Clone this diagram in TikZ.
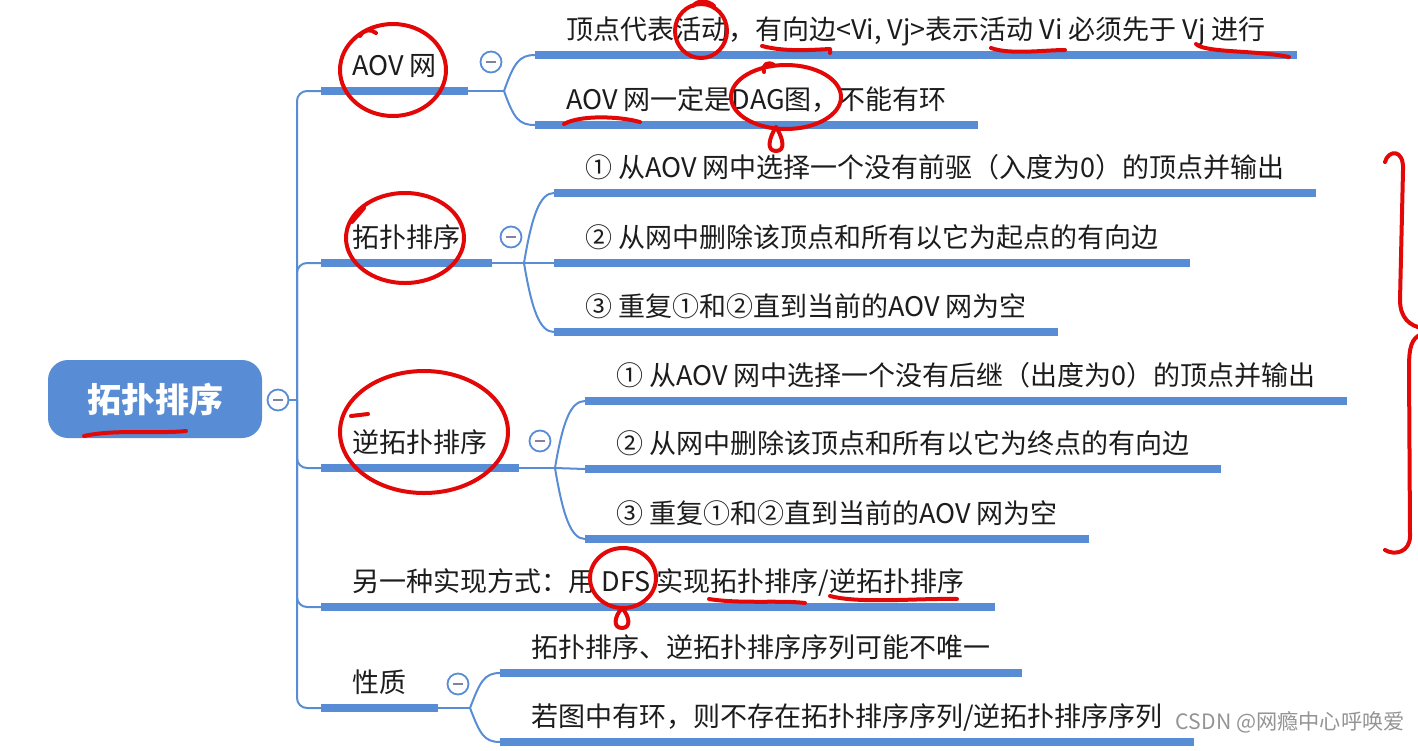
\documentclass[tikz,border=0pt]{standalone}
\usepackage{fontspec}
\setmainfont{Noto Sans CJK SC}
\definecolor{mapblue}{RGB}{88,140,212}
\definecolor{penred}{RGB}{226,8,8}
\definecolor{inkgray}{RGB}{28,28,28}
\definecolor{minusgray}{RGB}{130,130,160}
\usetikzlibrary{positioning, calc}
\tikzset{
  topic/.style={anchor=south west, inner xsep=15.5pt, inner ysep=0pt, text height=11pt, text depth=7.75pt, font=\fontsize{13.5}{16}\selectfont, text=inkgray},
  rootbox/.style={fill=mapblue, rounded corners=10pt, minimum width=107pt, minimum height=39pt, text=white, font=\fontsize{17}{20}\selectfont\bfseries},
  bar/.style={draw=mapblue, line width=4pt},
  link/.style={draw=mapblue, line width=1pt},
  fold/.style={circle, draw=mapblue, fill=white, line width=0.9pt, minimum size=10.5pt, inner sep=0pt,
    path picture={\draw[minusgray, line width=0.9pt] ([xshift=-2.5pt]path picture bounding box.center) -- ([xshift=2.5pt]path picture bounding box.center);}},
  pen/.style={draw=penred, line width=2pt, line cap=round, line join=round}
}
\begin{document}
\begin{tikzpicture}[x=0.5pt, y=-0.5pt]
\useasboundingbox (0,0) rectangle (1418,750);

\node[rootbox] (root) at (155,399) {拓扑排序};
\node[fold] (rootfold) at (278,400) {};
\coordinate (trunk) at (297,400);

\node[topic] (aov) at (321,91) {AOV 网};
\node[topic] (topo) at (321,263) {拓扑排序};
\node[topic] (inv) at (321,468) {逆拓扑排序};
\node[topic] (dfs) at (321,607) {另一种实现方式：用 DFS 实现拓扑排序/逆拓扑排序};
\node[topic] (prop) at (321,708) {性质};

\node[topic] (aov1) at (535,55) {顶点代表活动，有向边<Vi, Vj>表示活动 Vi 必须先于 Vj 进行};
\node[topic] (aov2) at (535,125) {AOV 网一定是DAG图，不能有环};
\node[topic] (topo1) at (554,193) {① 从AOV 网中选择一个没有前驱（入度为0）的顶点并输出};
\node[topic] (topo2) at (554,263) {② 从网中删除该顶点和所有以它为起点的有向边};
\node[topic] (topo3) at (554,332) {③ 重复①和②直到当前的AOV 网为空};
\node[topic] (inv1) at (585,401) {① 从AOV 网中选择一个没有后继（出度为0）的顶点并输出};
\node[topic] (inv2) at (585,469) {② 从网中删除该顶点和所有以它为终点的有向边};
\node[topic] (inv3) at (585,539) {③ 重复①和②直到当前的AOV 网为空};
\node[topic] (prop1) at (500,673) {拓扑排序、逆拓扑排序序列可能不唯一};
\node[topic] (prop2) at (500,742) {若图中有环，则不存在拓扑排序序列/逆拓扑排序序列};

\foreach \t in {aov,topo,inv,dfs,prop,aov1,aov2,topo1,topo2,topo3,inv1,inv2,inv3,prop1,prop2}
  \draw[bar] (\t.south west) -- (\t.south east);

\draw[link] (rootfold.east) -- (trunk);
\foreach \t in {aov,topo,inv,dfs,prop}
  \draw[link, rounded corners=5pt] (trunk) |- (\t.south west);

\node[fold] (aovfold) at (491,62) {};
\node[fold] (topofold) at (511,237) {};
\node[fold] (invfold) at (540,441) {};
\node[fold] (propfold) at (458,684) {};

\coordinate (aovsplit) at (504,91);
\coordinate (toposplit) at (524,263);
\coordinate (invsplit) at (555,468);
\coordinate (propsplit) at (470,708);
\draw[link] (aov.south east) -- (aovsplit);
\draw[link] (topo.south east) -- (toposplit);
\draw[link] (inv.south east) -- (invsplit);
\draw[link] (prop.south east) -- (propsplit);
\draw[link] (aovsplit) .. controls +(10,-28) and +(-16,0) .. (aov1.south west);
\draw[link] (aovsplit) .. controls +(10,28) and +(-16,0) .. (aov2.south west);
\draw[link] (toposplit) .. controls +(8,-48) and +(-14,0) .. (topo1.south west);
\draw[link] (toposplit) -- (topo2.south west);
\draw[link] (toposplit) .. controls +(8,48) and +(-14,0) .. (topo3.south west);
\draw[link] (invsplit) .. controls +(8,-48) and +(-14,0) .. (inv1.south west);
\draw[link] (invsplit) -- (inv2.south west);
\draw[link] (invsplit) .. controls +(8,48) and +(-14,0) .. (inv3.south west);
\draw[link] (propsplit) .. controls +(10,-26) and +(-16,0) .. (prop1.south west);
\draw[link] (propsplit) .. controls +(10,26) and +(-16,0) .. (prop2.south west);

\node[anchor=east, inner sep=0pt, text=black!42, font=\fontsize{10.6}{12}\selectfont] (mark) at (1405,722) {CSDN @网瘾中心呼唤爱};

% red pen marks
\draw[pen] (393,70) ellipse [x radius=53, y radius=46];
\draw[pen] (360,36) .. controls (364,29) and (371,29) .. (376,33);
\draw[pen] (405,238) ellipse [x radius=59, y radius=45];
\draw[pen] (352,222) -- (364,208);
\draw[pen] (424,432) ellipse [x radius=84, y radius=61];
\draw[pen] (351,416) -- (368,414);
\draw[pen] (701,31) ellipse [x radius=26, y radius=27];
\draw[pen] (693,6) .. controls (697,0) and (708,0) .. (714,6);
\draw[pen] (786,97) ellipse [x radius=55, y radius=32];
\draw[pen] (764,72) .. controls (762,64) and (768,61) .. (774,65);
\draw[pen] (776,127) .. controls (769,138) and (766,151) .. (776,151) .. controls (786,151) and (783,138) .. (776,127);
\draw[pen] (623,578) ellipse [x radius=33, y radius=30];
\draw[pen] (622,608) .. controls (614,617) and (613,628) .. (622,628) .. controls (631,628) and (630,617) .. (622,608);
\draw[pen] (84,436) .. controls (115,429) and (160,434) .. (186,431);
\draw[pen] (762,46) .. controls (785,52) and (810,50) .. (830,49) -- (830,53);
\draw[pen] (991,48) .. controls (1010,55) and (1045,50) .. (1065,50);
\draw[pen] (1196,44) .. controls (1205,53) and (1255,50) .. (1289,57);
\draw[pen] (564,124) .. controls (580,115) and (618,116) .. (640,122);
\draw[pen] (709,599) .. controls (740,604) and (780,600) .. (805,603);
\draw[pen] (830,596) .. controls (860,604) and (920,598) .. (957,599);
\draw[pen] (1385,162) .. controls (1388,150) and (1404,148) .. (1403,170) -- (1400,300) .. controls (1400,318) and (1410,326) .. (1422,328);
\draw[pen] (1422,334) .. controls (1411,338) and (1409,348) .. (1409,368) -- (1410,536) .. controls (1410,552) and (1395,556) .. (1385,550);
\end{tikzpicture}
\end{document}
